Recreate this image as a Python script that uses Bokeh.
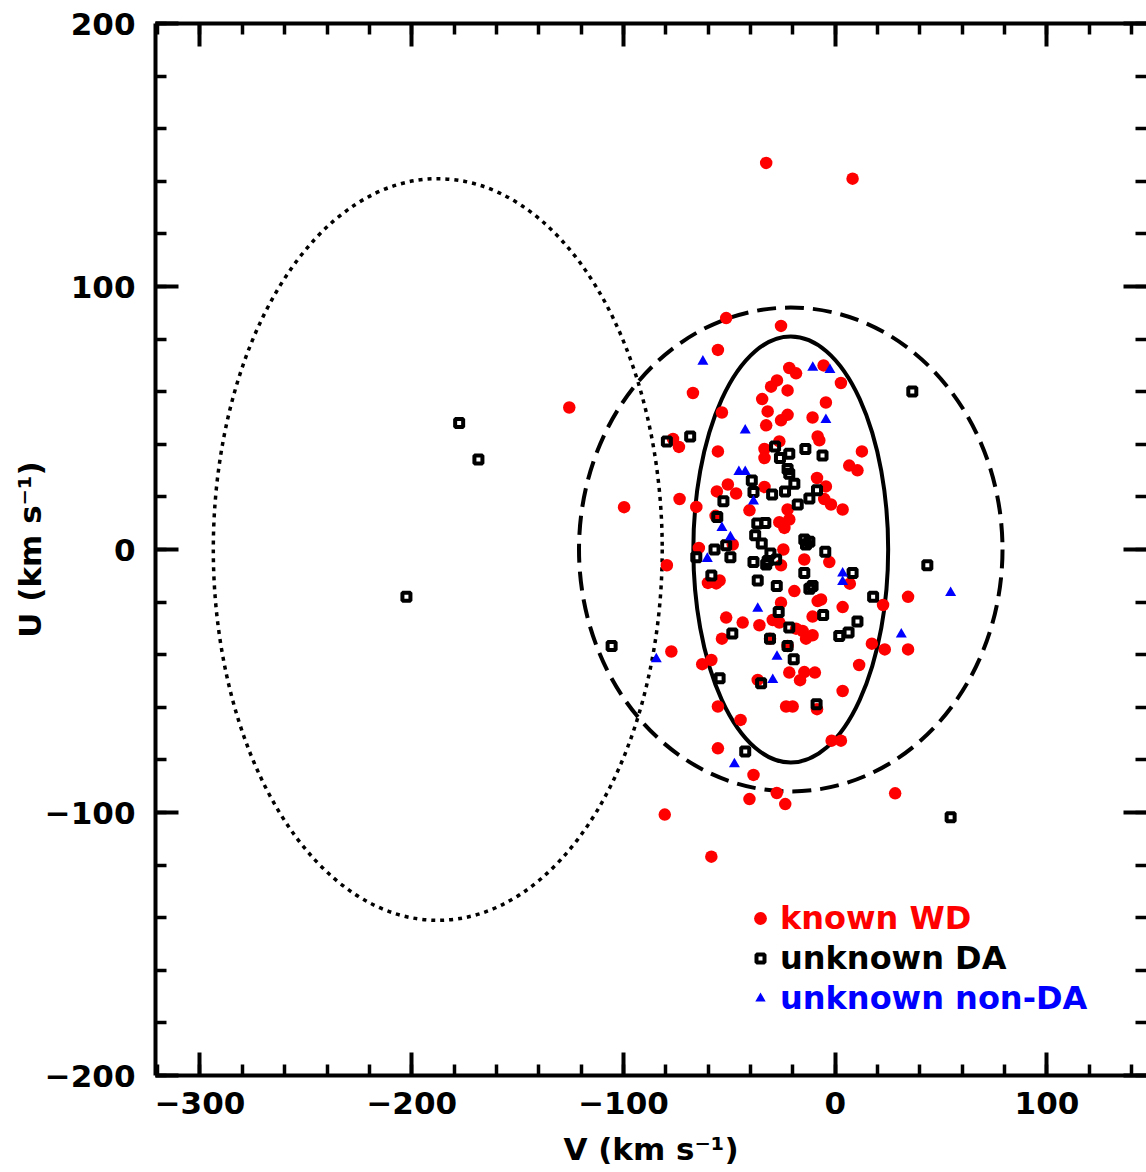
import numpy as np
from bokeh.plotting import figure
from bokeh.models import (Range1d, LinearAxis, SingleIntervalTicker, Legend,
                          LegendItem)
from bokeh.embed import file_html
from bokeh.resources import INLINE

# ---- velocities (km/s) ----
# known white dwarfs
wd_v = [-32.6, 8.2, -51.5, -25.6, -55.4, -21.7, -18.5, -5.5, 2.7, -27.5,
        -30.3, -22.5, -67.2, -34.5, -4.4, -53.5, -31.9, -22.5, -25.6, -10.7,
        -32.6, -8.3, -7.5, -76.6, -73.8, -55.4, -33.4, -33.4, -26.4, 12.6,
        6.6, 10.5, -8.6, -4.4, -50.7, -55.9, -46.8, -33.4, -5.2, -2.0,
        3.5, -73.5, -65.6, -99.7, -40.5, -22.5, -56.5, -26.4, -21.7, -24.0,
        -64.4, -48.4, -24.5, -79.5, -25.6, -14.6, -2.8, -60.1, -54.6, -56.2,
        6.9, -19.3, -25.6, -8.3, 3.5, -6.7, -51.5, -43.7, -35.8, -29.5,
        -10.7, -26.4, -18.5, -15.4, -10.7, -13.8, -53.5, -30.8, -77.4, -62.8,
        -58.5, 11.3, 17.3, -21.7, -14.6, -9.6, -16.6, -36.6, 3.5, -55.4,
        -23.2, -20.1, -8.6, -44.7, -1.7, 2.7, -55.4, -38.6, -27.6, -40.5,
        -23.6, -80.5, -58.5, -125.6, 22.6, 34.4, 23.4, 34.4, 28.3, -22.5]
wd_u = [147.0, 141.0, 88.0, 85.0, 75.9, 69.0, 67.0, 70.0, 63.3, 64.3,
        61.9, 60.5, 59.5, 57.2, 55.9, 52.1, 52.5, 51.2, 49.1, 50.2,
        47.2, 43.0, 41.5, 42.0, 39.0, 37.3, 38.2, 34.8, 41.1, 37.3,
        31.9, 30.1, 27.2, 24.0, 24.7, 22.1, 21.3, 23.8, 19.2, 17.1,
        15.2, 19.2, 16.2, 16.1, 14.9, 15.2, 12.8, 10.4, 11.4, 8.2,
        0.6, 1.9, 0.0, -6.0, -6.0, -3.8, -4.8, -12.7, -11.8, -12.9,
        -13.0, -15.8, -20.2, -19.6, -21.9, -19.0, -25.9, -27.8, -28.8, -26.8,
        -25.5, -27.8, -30.1, -31.0, -32.6, -33.9, -33.9, -33.9, -38.8, -43.6,
        -42.0, -43.9, -35.8, -46.8, -46.6, -46.8, -49.7, -49.6, -53.8, -59.7,
        -59.7, -59.7, -60.7, -64.8, -72.7, -72.7, -75.6, -85.7, -92.6, -94.9,
        -96.8, -100.8, -116.8, 54.0, -21.1, -18.0, -38.0, -38.0, -92.7, -36.7]

# unknown DA
da_v = [-79.5, -68.5, -28.4, -21.7, -26.1, -14.1, -6.0, -22.5, -21.7, -19.3,
        -39.4, -38.6, -29.8, -23.7, -8.6, -12.2, -17.7, -52.8, -55.7, -36.8,
        -33.0, -37.8, -34.7, -14.6, -12.2, -13.8, -4.7, -57.0, -51.5, -49.5,
        -65.6, -38.6, -31.9, -30.6, -27.9, -32.6, -58.5, -14.6, 8.2, -36.6,
        -27.6, -12.2, -10.7, 17.9, -26.7, -5.7, 10.5, -105.6, -48.6, -21.7,
        -22.5, -19.6, -30.8, 1.9, 6.3, -54.6, -35.0, -8.8, -42.5, 36.4,
        43.5, 54.5, -177.6, -168.5, -202.5]
da_u = [41.1, 43.0, 39.2, 36.4, 34.8, 38.2, 35.7, 30.6, 28.8, 25.0,
        26.2, 21.9, 20.9, 22.1, 22.5, 19.4, 17.1, 18.3, 12.4, 9.9,
        10.1, 5.4, 2.3, 3.8, 2.9, 1.9, -0.9, 0.0, 1.6, -2.9,
        -2.9, -4.8, -4.4, -1.5, -3.8, -5.7, -9.9, -8.9, -8.9, -11.8,
        -13.9, -14.9, -13.9, -18.0, -23.8, -24.9, -27.4, -36.7, -31.9, -29.7,
        -36.7, -41.7, -33.9, -32.9, -31.6, -49.0, -50.9, -58.8, -76.8, 60.1,
        -6.0, -101.8, 48.1, 34.2, -18.0]

# unknown non-DA
nda_v = [-62.5, -10.6, -2.5, -42.5, -4.4, -45.5, -42.5, -38.6, -53.5, -49.5,
         -60.4, 3.5, 3.5, -36.6, -84.5, -27.5, -29.5, -47.6, 31.2, 54.5]
nda_u = [71.5, 69.2, 68.3, 45.3, 49.3, 29.5, 29.5, 18.3, 8.2, 4.7,
         -3.5, -9.1, -12.3, -22.5, -41.7, -40.7, -49.6, -81.6, -32.3, -16.5]

# velocity ellipses: thin disk (solid), thin disk wide (dashed), thick disk (dotted)
ell_v = [-21.0, -21.0, -187.7]
ell_u = [0.0, 0.0, 0.0]
ell_width = [92.0, 200.0, 212.0]
ell_height = [162.0, 184.0, 282.0]
ell_dash = ["solid", "19 9", "4 5"]
ell_lw = [4, 4, 3.5]

x_ticks = [-300, -200, -100, 0, 100]
y_ticks = [-200, -100, 0, 100, 200]

FONT = "DejaVu Sans"

p = figure(width=1146, height=1172,
           x_range=Range1d(-321, 147), y_range=Range1d(-200, 200),
           output_backend="svg", toolbar_location=None,
           min_border_left=155, min_border_right=0,
           min_border_top=23, min_border_bottom=97)
p.grid.visible = False
p.outline_line_color = None
p.background_fill_color = "white"
p.border_fill_color = "white"

for i in range(len(ell_v)):
    p.ellipse(x=[ell_v[i]], y=[ell_u[i]], width=[ell_width[i]],
              height=[ell_height[i]], fill_color=None, line_color="black",
              line_width=ell_lw[i], line_dash=ell_dash[i])

r_wd = p.scatter(wd_v, wd_u, marker="circle", size=12.5,
                 fill_color="#ff0000", line_color=None)
r_da = p.scatter(da_v, da_u, marker="square", size=8,
                 fill_color=None, line_color="black", line_width=4)
r_nda = p.scatter(nda_v, nda_u, marker="triangle", size=11,
                  fill_color="#0000ff", line_color=None)


def minus(v):
    return str(v).replace("-", "\u2212")


def style_axis(ax, labels=True):
    ax.axis_line_width = 4
    ax.major_tick_line_width = 4
    ax.minor_tick_line_width = 3.5
    ax.major_tick_in = 23
    ax.major_tick_out = 0
    ax.minor_tick_in = 11
    ax.minor_tick_out = 0
    ax.major_label_text_font = FONT
    ax.major_label_text_font_style = "bold"
    ax.axis_label_text_font = FONT
    ax.axis_label_text_font_style = "bold"
    ax.axis_label_text_font_size = "31px"
    ax.axis_label_text_color = "black"
    if labels:
        ax.major_label_text_font_size = "31px"
        ax.major_label_text_color = "black"
    else:
        # tick marks only, no numbers on the top and right frame edges
        ax.major_label_text_font_size = "1px"
        ax.major_label_text_color = None
        ax.major_label_standoff = 0


xt = SingleIntervalTicker(interval=100, num_minor_ticks=5)
yt = SingleIntervalTicker(interval=100, num_minor_ticks=5)

xa = p.xaxis[0]
xa.ticker = xt
style_axis(xa)
xa.major_label_overrides = {v: minus(v) for v in x_ticks}
xa.major_label_standoff = 16
xa.axis_label = "V (km s\u207b\u00b9)"
xa.axis_label_standoff = 14

ya = p.yaxis[0]
ya.ticker = yt
style_axis(ya)
ya.major_label_overrides = {v: minus(v) for v in y_ticks}
ya.major_label_standoff = 20
ya.axis_label = "U (km s\u207b\u00b9)"
ya.axis_label_standoff = -6

top = LinearAxis(ticker=SingleIntervalTicker(interval=100, num_minor_ticks=5))
style_axis(top, labels=False)
p.add_layout(top, "above")

right = LinearAxis(ticker=SingleIntervalTicker(interval=100, num_minor_ticks=5))
style_axis(right, labels=False)
right.axis_line_color = None
p.add_layout(right, "right")

# legend entries, one block per class so each label keeps its own colour
entries = [
    ("known WD", r_wd, "#ff0000", 32, 4, (589, 137)),
    ("unknown DA", r_da, "black", 20, 10, (595, 97)),
    ("unknown non-DA", r_nda, "#0000ff", 26, 7, (592, 57)),
]
for label, rend, color, gw, standoff, loc in entries:
    leg = Legend(items=[LegendItem(label=label, renderers=[rend])],
                 location=loc)
    leg.border_line_color = None
    leg.background_fill_alpha = 0
    leg.padding = 0
    leg.margin = 0
    leg.spacing = 0
    leg.glyph_width = gw
    leg.glyph_height = 40
    leg.label_height = 40
    leg.label_standoff = standoff
    leg.label_text_font = FONT
    leg.label_text_font_style = "bold"
    leg.label_text_font_size = "32px"
    leg.label_text_color = color
    p.add_layout(leg)

open("out.html", "w").write(file_html(p, INLINE))
